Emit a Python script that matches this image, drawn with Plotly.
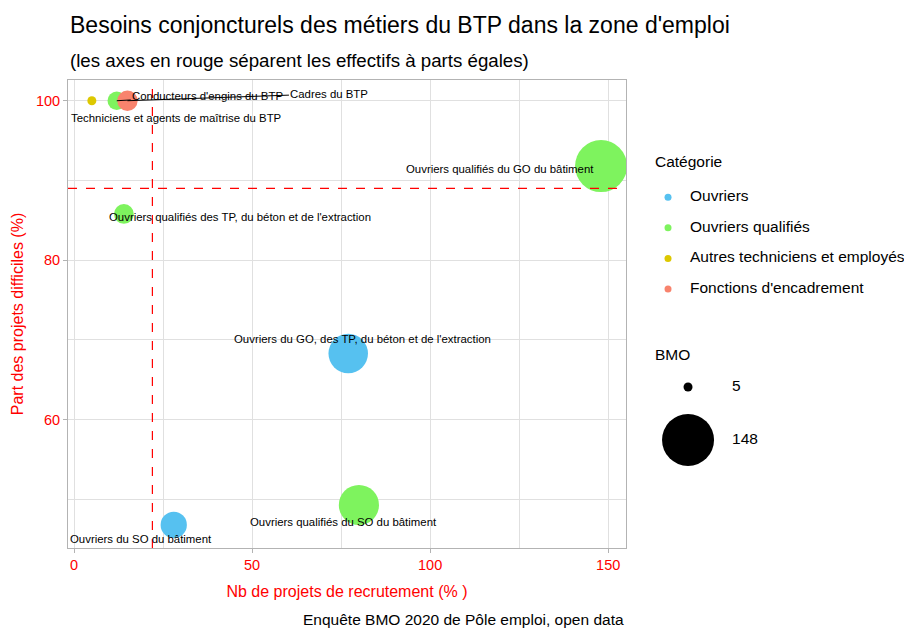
import numpy as np
import plotly.graph_objects as go

# données BMO 2020 - métiers du BTP
metiers = [
    "Ouvriers du GO, des TP, du béton et de l'extraction",
    "Ouvriers du SO du bâtiment",
    "Ouvriers qualifiés du GO du bâtiment",
    "Ouvriers qualifiés du SO du bâtiment",
    "Ouvriers qualifiés des TP, du béton et de l'extraction",
    "Conducteurs d'engins du BTP",
    "Techniciens et agents de maîtrise du BTP",
    "Cadres du BTP",
]
categories_metier = [
    "Ouvriers", "Ouvriers",
    "Ouvriers qualifiés", "Ouvriers qualifiés", "Ouvriers qualifiés", "Ouvriers qualifiés",
    "Autres techniciens et employés",
    "Fonctions d'encadrement",
]
bmo = [77, 28, 148, 80, 14, 12, 5, 15]
part_difficiles = [68.3, 46.8, 91.8, 49.3, 85.8, 100, 100, 100]

categories = ["Ouvriers", "Ouvriers qualifiés", "Autres techniciens et employés", "Fonctions d'encadrement"]
bmo_legende = [5, 148]

# axes rouges (parts égales)
seuil_x = 22
seuil_y = 89

couleurs = {
    "Ouvriers": "#56C1F0",
    "Ouvriers qualifiés": "#7EF35E",
    "Autres techniciens et employés": "#DDC800",
    "Fonctions d'encadrement": "#F8836D",
}

# décalage des étiquettes en pixels écran (dx, dy vers le bas, avec segment)
decalages = {
    "Ouvriers du GO, des TP, du béton et de l'extraction": (14, -14, False),
    "Ouvriers du SO du bâtiment": (-33, 14, False),
    "Ouvriers qualifiés du GO du bâtiment": (-101, 3, False),
    "Ouvriers qualifiés du SO du bâtiment": (-15, 17, False),
    "Ouvriers qualifiés des TP, du béton et de l'extraction": (116, 3, False),
    "Conducteurs d'engins du BTP": (91, -5, True),
    "Techniciens et agents de maîtrise du BTP": (84, 17, False),
    "Cadres du BTP": (202, -7, True),
}

FONT = "Liberation Sans, Arial, sans-serif"
vmin, vmax = min(bmo), max(bmo)


def taille(v):
    # échelle de taille façon ggplot (aire)
    return 9 + 43 * np.sqrt((np.asarray(v, dtype=float) - vmin) / (vmax - vmin))


fig = go.Figure()

for i in range(len(metiers)):
    cat = categories_metier[i]
    fig.add_trace(go.Scatter(
        x=[bmo[i]], y=[part_difficiles[i]], mode="markers",
        marker=dict(size=float(taille(bmo[i])), color=couleurs[cat], opacity=1, line=dict(width=0)),
        showlegend=False, hovertext=metiers[i],
    ))

# légende Catégorie (axes annexes x3/y3)
fig.add_trace(go.Scatter(
    x=[0] * len(categories), y=categories, mode="markers",
    marker=dict(size=7, color=[couleurs[c] for c in categories], opacity=1, line=dict(width=0)),
    xaxis="x3", yaxis="y3", showlegend=False, hoverinfo="skip", cliponaxis=False,
))
fig.add_trace(go.Scatter(
    x=[1] * len(categories), y=categories, mode="text", text=categories,
    textposition="middle right", textfont=dict(size=15.5, color="black", family=FONT),
    xaxis="x3", yaxis="y3", showlegend=False, hoverinfo="skip", cliponaxis=False,
))

# légende des tailles BMO (axes annexes x2/y2)
fig.add_trace(go.Scatter(
    x=[0] * len(bmo_legende), y=[str(v) for v in bmo_legende], mode="markers",
    marker=dict(size=taille(bmo_legende), color="black", opacity=1, line=dict(width=0)),
    xaxis="x2", yaxis="y2", showlegend=False, hoverinfo="skip", cliponaxis=False,
))
fig.add_trace(go.Scatter(
    x=[1] * len(bmo_legende), y=[str(v) for v in bmo_legende], mode="text",
    text=[str(v) for v in bmo_legende], textposition="middle right",
    textfont=dict(size=15.5, color="black", family=FONT),
    xaxis="x2", yaxis="y2", showlegend=False, hoverinfo="skip", cliponaxis=False,
))

fig.add_vline(x=seuil_x, line=dict(color="red", width=1.2, dash="dash"))
fig.add_hline(y=seuil_y, line=dict(color="red", width=1.2, dash="dash"))

for i, m in enumerate(metiers):
    dx, dy, segment = decalages[m]
    if segment:
        fig.add_annotation(x=bmo[i], y=part_difficiles[i], text=m, showarrow=True,
                           ax=dx, ay=dy, arrowhead=0, arrowwidth=1, arrowcolor="black",
                           font=dict(size=11.4, color="black", family=FONT))
    else:
        fig.add_annotation(x=bmo[i], y=part_difficiles[i], text=m, showarrow=False,
                           xshift=dx, yshift=-dy,
                           font=dict(size=11.4, color="black", family=FONT))

fig.add_annotation(text="Besoins conjoncturels des métiers du BTP dans la zone d'emploi",
                   xref="paper", yref="paper", x=0, y=1.1175, xanchor="left", yanchor="middle",
                   showarrow=False, font=dict(size=23, color="black", family=FONT))
fig.add_annotation(text="(les axes en rouge séparent les effectifs à parts égales)",
                   xref="paper", yref="paper", x=0, y=1.0427, xanchor="left", yanchor="middle",
                   showarrow=False, font=dict(size=18.7, color="black", family=FONT))
fig.add_annotation(text="Enquête BMO 2020 de Pôle emploi, open data",
                   xref="paper", yref="paper", x=0.6611, y=-0.1538, xanchor="right", yanchor="middle",
                   showarrow=False, font=dict(size=15.5, color="black", family=FONT))
fig.add_annotation(text="Catégorie", xref="paper", yref="paper", x=0.6931, y=0.8248,
                   xanchor="left", yanchor="middle", showarrow=False,
                   font=dict(size=15.5, color="black", family=FONT))
fig.add_annotation(text="BMO", xref="paper", yref="paper", x=0.6931, y=0.4124,
                   xanchor="left", yanchor="middle", showarrow=False,
                   font=dict(size=15.5, color="black", family=FONT))

grille = "#E0E0E0"
bord = "#B3B3B3"
fig.update_layout(
    width=904, height=620,
    margin=dict(l=60, r=0, t=72, b=80),
    paper_bgcolor="white", plot_bgcolor="white",
    font=dict(family=FONT, color="black"),
    showlegend=False,
    xaxis=dict(
        domain=[0, 0.6611], range=[-1.7, 155], tick0=0, dtick=50, automargin=False,
        showgrid=True, gridcolor=grille, gridwidth=1, zeroline=False,
        minor=dict(showgrid=True, gridcolor=grille, dtick=25, tick0=0),
        showline=True, mirror=True, linecolor=bord, linewidth=1,
        ticks="outside", ticklen=4, tickcolor=bord,
        tickfont=dict(size=14.5, color="red"),
        title=dict(text="Nb de projets de recrutement (% )", font=dict(size=16, color="red"), standoff=13),
    ),
    yaxis=dict(
        range=[43.9, 102.6], tick0=0, dtick=20, automargin=False,
        showgrid=True, gridcolor=grille, gridwidth=1, zeroline=False,
        minor=dict(showgrid=True, gridcolor=grille, dtick=10, tick0=0),
        showline=True, mirror=True, linecolor=bord, linewidth=1,
        ticks="outside", ticklen=4, tickcolor=bord,
        tickfont=dict(size=14.5, color="red"),
        title=dict(text="Part des projets difficiles (%)", font=dict(size=16, color="red"), standoff=8),
    ),
    xaxis2=dict(domain=[0.6896, 0.8673], range=[-0.864, 2.545], visible=False,
                fixedrange=True, anchor="y2"),
    yaxis2=dict(domain=[0.1667, 0.4017], range=[1.566, -0.509], type="category",
                visible=False, fixedrange=True, anchor="x2"),
    xaxis3=dict(domain=[0.6896, 0.8673], range=[-0.818, 6.0], visible=False,
                fixedrange=True, anchor="y3"),
    yaxis3=dict(domain=[0.517, 0.786], range=[3.554, -0.554], type="category",
                visible=False, fixedrange=True, anchor="x3"),
)

fig.write_html("out.html")
